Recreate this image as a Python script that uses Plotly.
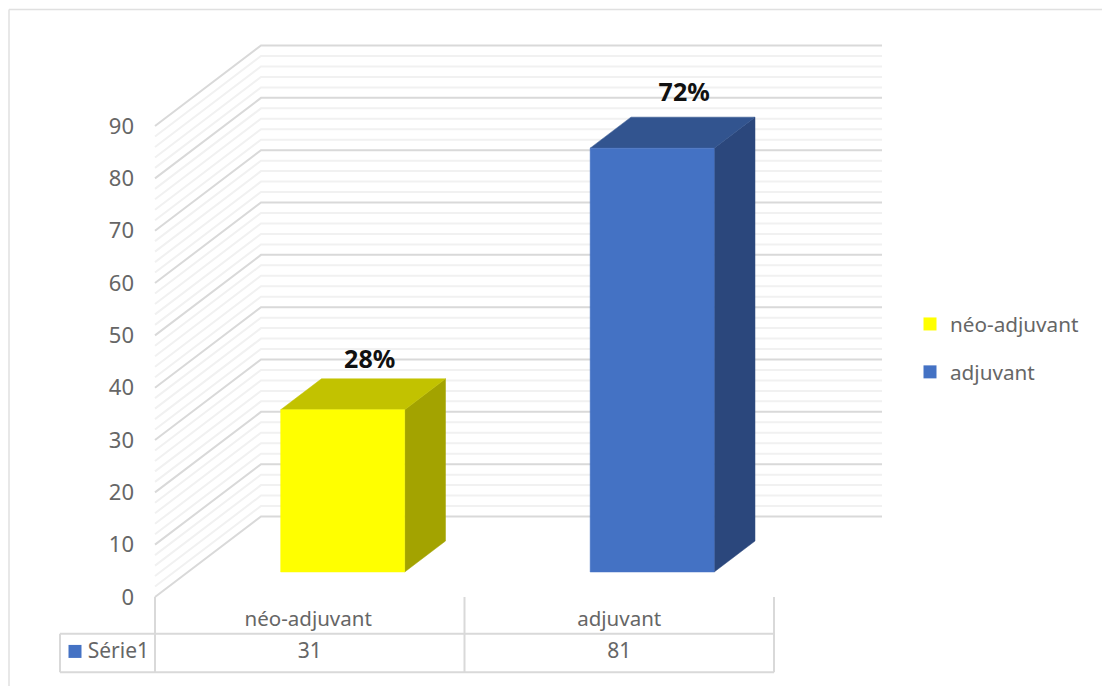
import plotly.graph_objects as go

# ---- data ----
categories = ["néo-adjuvant", "adjuvant"]
values = [31, 81]
percent_labels = ["28%", "72%"]
series_name = "Série1"
y_ticks = [0, 10, 20, 30, 40, 50, 60, 70, 80, 90]
front_colors = ["#FFFF00", "#4472C4"]
top_colors = ["#C2C200", "#32548F"]
side_colors = ["#A3A300", "#2B477C"]

# ---- layout constants ----
W, H = 1102, 686
SLOT_PX = 309.5
UNIT_PX = 5.233
X0_PX, Y0_PX = 155.0, 597.0
DEPTH_X = 106 / SLOT_PX
DEPTH_Y = 80.5 / UNIT_PX
BAR_W = 124 / SLOT_PX
Z_FRONT, Z_BACK = 25 / 80.5, 56 / 80.5
FONT = "Noto Sans"
GREY = "#666666"


def proj(x, v, z):
    return x + z * DEPTH_X, v + z * DEPTH_Y


def poly(points, color):
    xs = [p[0] for p in points] + [points[0][0]]
    ys = [p[1] for p in points] + [points[0][1]]
    return go.Scatter(x=xs, y=ys, mode="lines", fill="toself", fillcolor=color,
                      line=dict(width=0.5, color=color), showlegend=False, hoverinfo="skip")


fig = go.Figure()

# gridlines: side wall + back wall
GRID_END = 2 + 2 / SLOT_PX
for step_major, color, width in [(False, "#F1F1F1", 2), (True, "#D9D9D9", 2)]:
    gx, gy = [], []
    for v in range(0, 91, 2):
        if (v % 10 == 0) != step_major:
            continue
        for x, z in [(0, 0), (0, 1), (GRID_END, 1)]:
            px, py = proj(x, v, z)
            gx.append(px)
            gy.append(py)
        gx.append(None)
        gy.append(None)
    fig.add_trace(go.Scatter(x=gx, y=gy, mode="lines", line=dict(color=color, width=width),
                             showlegend=False, hoverinfo="skip"))

# bars as projected boxes
for i, (cat, val) in enumerate(zip(categories, values)):
    left, right = i + 0.5 - BAR_W / 2, i + 0.5 + BAR_W / 2
    a, b = proj(left, 0, Z_FRONT), proj(right, 0, Z_FRONT)
    c, d = proj(right, val, Z_FRONT), proj(left, val, Z_FRONT)
    e, f = proj(right, 0, Z_BACK), proj(right, val, Z_BACK)
    g = proj(left, val, Z_BACK)
    fig.add_trace(poly([b, e, f, c], side_colors[i]))
    fig.add_trace(poly([d, c, f, g], top_colors[i]))
    fig.add_trace(poly([a, b, c, d], front_colors[i]))

# percent labels above the bars
label_shift_x = [27 / SLOT_PX, 32 / SLOT_PX]
label_shift_v = [48 / UNIT_PX, 53 / UNIT_PX]
lx, ly = [], []
for i, val in enumerate(values):
    px, py = proj(i + 0.5, val, Z_FRONT)
    lx.append(px + label_shift_x[i])
    ly.append(py + label_shift_v[i])
fig.add_trace(go.Scatter(x=lx, y=ly, mode="text", text=percent_labels,
                         textfont=dict(family=FONT, size=25, color="#111111", weight="bold"),
                         showlegend=False, hoverinfo="skip"))

# data table
V_ROW1, V_ROW2 = -7.0, -14.4
X_KEY = -95 / SLOT_PX
tx = [0, 0, None, 1, 1, None, 2, 2, None, X_KEY, 2, None, X_KEY, 2, None, X_KEY, X_KEY]
ty = [0, V_ROW2, None, 0, V_ROW2, None, 0, V_ROW2, None, V_ROW1, V_ROW1, None,
      V_ROW2, V_ROW2, None, V_ROW1, V_ROW2]
fig.add_trace(go.Scatter(x=tx, y=ty, mode="lines", line=dict(color="#D9D9D9", width=2),
                         showlegend=False, hoverinfo="skip"))
fig.add_trace(go.Scatter(x=[0.495, 1.5], y=[-4.6, -4.6], mode="text", text=categories,
                         textfont=dict(family=FONT, size=20.5, color=GREY),
                         showlegend=False, hoverinfo="skip"))
fig.add_trace(go.Scatter(x=[0.5, 1.5], y=[-10.7, -10.7], mode="text", text=[str(v) for v in values],
                         textfont=dict(family=FONT, size=21, color=GREY),
                         showlegend=False, hoverinfo="skip"))
fig.add_trace(go.Scatter(x=[-80 / SLOT_PX], y=[-10.4], mode="markers",
                         marker=dict(symbol="square", size=13, color=front_colors[1]),
                         showlegend=False, hoverinfo="skip"))
fig.add_trace(go.Scatter(x=[-6 / SLOT_PX], y=[-10.7], mode="text", text=[series_name],
                         textposition="middle left",
                         textfont=dict(family=FONT, size=21, color=GREY),
                         showlegend=False, hoverinfo="skip"))

# legend entries
for i, cat in enumerate(categories):
    fig.add_trace(go.Scatter(x=[None], y=[None], mode="markers", name=cat, legendgroup=cat,
                             marker=dict(symbol="square", size=13, color=front_colors[i])))

fig.update_layout(
    width=W, height=H,
    margin=dict(l=0, r=0, t=0, b=0),
    paper_bgcolor="white", plot_bgcolor="white",
    xaxis=dict(range=[-X0_PX / SLOT_PX, (W - X0_PX) / SLOT_PX], domain=[0, 1], visible=False, fixedrange=True),
    yaxis=dict(range=[(Y0_PX - H) / UNIT_PX, Y0_PX / UNIT_PX], domain=[0, 1],
               anchor="free", position=X0_PX / W, tickmode="array", tickvals=y_ticks,
               showgrid=False, zeroline=False, showline=False, ticks="",
               ticklabelstandoff=21,
               tickfont=dict(family=FONT, size=22, color=GREY), fixedrange=True),
    legend=dict(x=910 / W, y=(H - 304) / H, xanchor="left", yanchor="top",
                font=dict(family=FONT, size=20.7, color=GREY), tracegroupgap=18,
                bgcolor="rgba(0,0,0,0)", itemclick=False, itemdoubleclick=False),
    shapes=[
        dict(type="line", xref="paper", yref="paper", x0=9 / W, x1=1, y0=(H - 9.5) / H, y1=(H - 9.5) / H,
             line=dict(color="#E0E0E0", width=1.5)),
        dict(type="line", xref="paper", yref="paper", x0=9 / W, x1=9 / W, y0=0, y1=(H - 9.5) / H,
             line=dict(color="#E0E0E0", width=1.5)),
    ],
)

fig.write_html("out.html", post_script="document.body.style.margin='0';document.body.style.overflow='hidden';",
               config={"displayModeBar": False})
